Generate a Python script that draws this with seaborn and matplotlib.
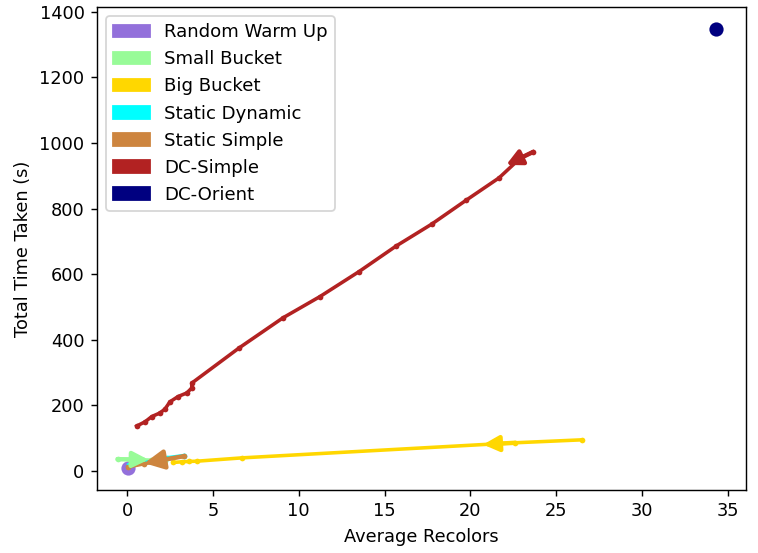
import numpy as np
import matplotlib
matplotlib.use("Agg")
import matplotlib.pyplot as plt
import matplotlib.patches as mpatches
import seaborn as sns

series_names = ["Random Warm Up", "Small Bucket", "Big Bucket", "Static Dynamic",
                "Static Simple", "DC-Simple", "DC-Orient"]
series_colors = ["mediumpurple", "palegreen", "gold", "cyan", "peru", "firebrick", "navy"]

random_warm_up_x = [0.05]
random_warm_up_y = [9]

small_bucket_x = [-0.55, 0.5, 1.4, 2.2]
small_bucket_y = [36, 35, 33, 31]

big_bucket_x = [2.7, 3.2, 3.6, 4.1, 6.7, 22.6, 26.5]
big_bucket_y = [26, 28, 29, 30, 40, 86, 95]

static_dynamic_x = [0.1, 1.5, 2.3, 3.3]
static_dynamic_y = [18, 30, 40, 47]

static_simple_x = [0.05, 1.0, 2.0, 3.3]
static_simple_y = [12, 22, 33, 45]

dc_simple_x = [0.56, 1.05, 1.44, 1.92, 2.21, 2.5, 2.97, 3.48, 3.77, 3.77, 6.52, 9.08,
               11.24, 13.51, 15.67, 17.75, 19.73, 21.67, 22.9, 23.65]
dc_simple_y = [137, 150, 166, 177, 189, 211, 227, 238, 253, 268, 375, 467,
               532, 608, 686, 753, 825, 894, 954, 973]

dc_orient_x = [34.3]
dc_orient_y = [1347]

DPI = 128
fig = plt.figure(figsize=(758 / DPI, 553 / DPI), dpi=DPI)
ax = fig.add_axes([97 / 758, 63 / 553, 649 / 758, 483 / 553])

line_kw = dict(sort=False, estimator=None, marker="o", markersize=3.2,
               markeredgewidth=0, linewidth=2, ax=ax, legend=False)

sns.scatterplot(x=random_warm_up_x, y=random_warm_up_y, color=series_colors[0],
                s=64, linewidth=0, ax=ax, legend=False)
sns.lineplot(x=small_bucket_x, y=small_bucket_y, color=series_colors[1], **line_kw)
sns.lineplot(x=big_bucket_x, y=big_bucket_y, color=series_colors[2], **line_kw)
sns.lineplot(x=static_dynamic_x, y=static_dynamic_y, color=series_colors[3], **line_kw)
sns.lineplot(x=static_simple_x, y=static_simple_y, color=series_colors[4], **line_kw)
sns.lineplot(x=dc_simple_x, y=dc_simple_y, color=series_colors[5], **line_kw)
sns.scatterplot(x=dc_orient_x, y=dc_orient_y, color=series_colors[6],
                s=64, linewidth=0, ax=ax, legend=False)

ax.set_xlim(-1.75, 36.05)
ax.set_ylim(-58, 1415)
ax.set_xlabel("Average Recolors")
ax.set_ylabel("Total Time Taken (s)")


def add_arrow(xs, ys, i, j, length_px, color, zorder, scale=8):
    p0 = ax.transData.transform((xs[i], ys[i]))
    p1 = ax.transData.transform((xs[j], ys[j]))
    d = (p1 - p0) / np.hypot(*(p1 - p0))
    head = ax.transData.inverted().transform(p0 + d * length_px)
    ax.annotate("", xy=tuple(head), xytext=(xs[i], ys[i]),
                xycoords="data", textcoords="data", zorder=zorder,
                arrowprops=dict(arrowstyle="-|>,head_length=0.9,head_width=0.45",
                                color=color, lw=2.5, mutation_scale=scale,
                                shrinkA=0, shrinkB=0))


add_arrow(small_bucket_x, small_bucket_y, 0, 1, 31, series_colors[1], 3)
add_arrow(big_bucket_x, big_bucket_y, 5, 4, 32, series_colors[2], 3)
add_arrow(static_simple_x, static_simple_y, 3, 2, 40, series_colors[4], 4, scale=10)
add_arrow(dc_simple_x, dc_simple_y, 19, 18, 30, series_colors[5], 4)

handles = [mpatches.Patch(color=c, label=n) for n, c in zip(series_names, series_colors)]
ax.legend(handles=handles, loc="upper left", fontsize=10.2)

fig.savefig("out.png", dpi=DPI)
